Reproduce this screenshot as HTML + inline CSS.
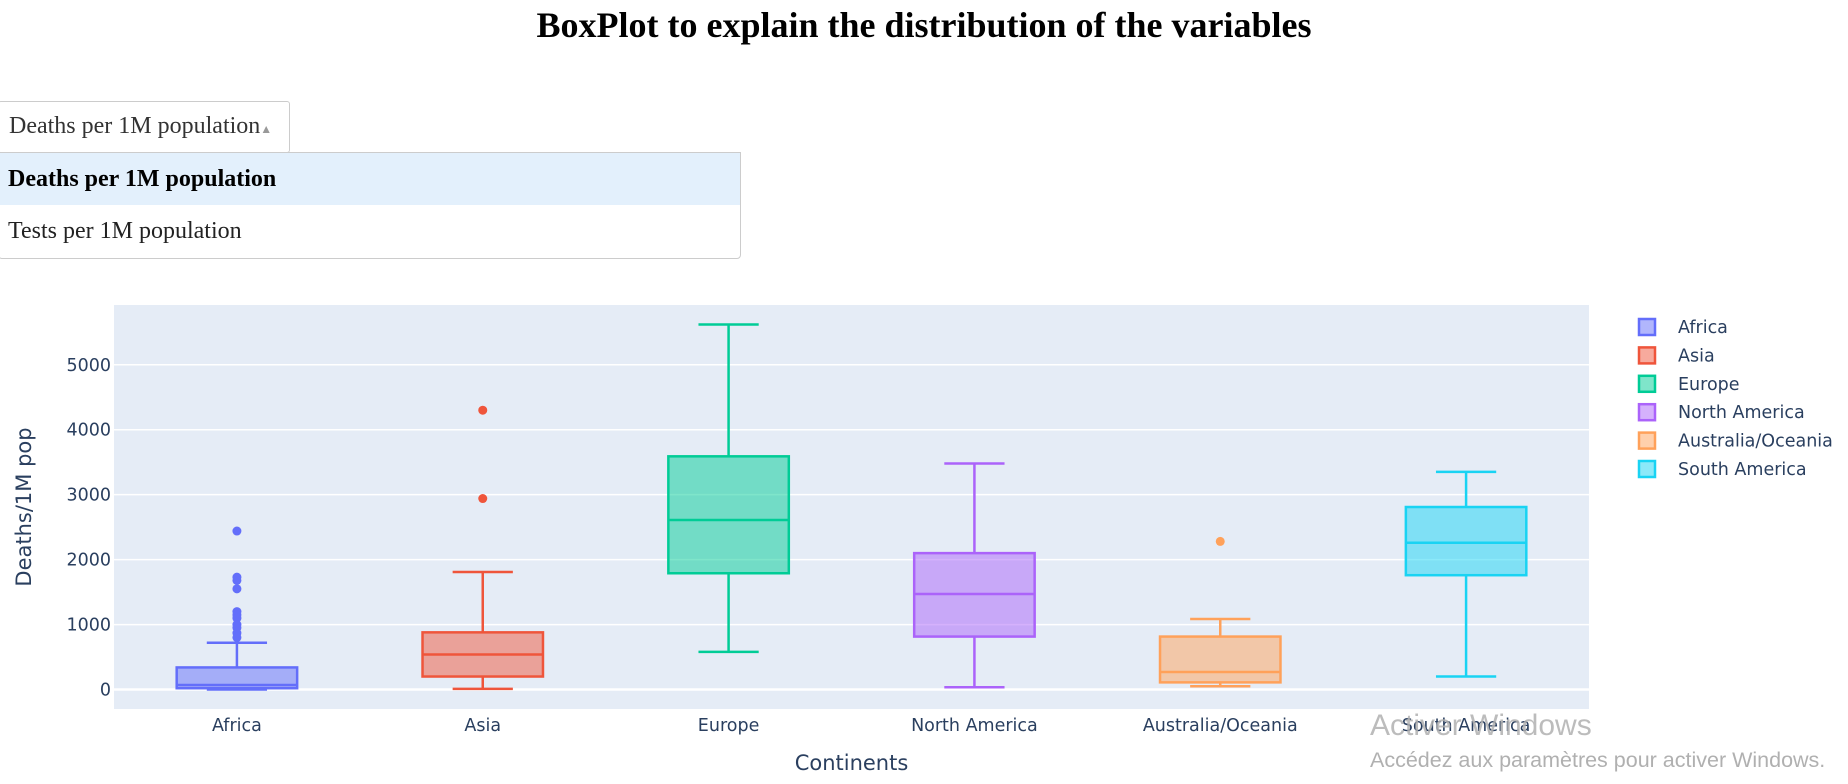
<!DOCTYPE html>
<html><head><meta charset="utf-8"><style>
body{margin:0;width:1848px;height:784px;background:#fff;overflow:hidden;position:relative;font-family:"Liberation Sans",sans-serif}
#title{position:absolute;top:4px;left:0;width:1848px;text-align:center;font:bold 36px "Liberation Serif",serif;color:#000}
#dd{position:absolute;left:-2px;top:101px;width:292px;height:52px;border:1px solid #ccc;border-radius:3px;background:#fff;box-sizing:border-box;font:24px "Liberation Serif",serif;color:#333;padding:11px 0 0 10px;white-space:nowrap}
#menu{position:absolute;left:-2px;top:152px;width:743px;height:107px;border:1px solid #ccc;border-radius:0 0 4px 4px;background:#fff;box-sizing:border-box;font:24px "Liberation Serif",serif}
.opt{height:52px;line-height:52px;padding-left:9px}
svg{position:absolute;left:0;top:0}
</style></head><body>
<div id="title">BoxPlot to explain the distribution of the variables</div>
<div id="dd">Deaths per 1M population<span style="font-size:12px;color:#999">▲</span></div>
<div id="menu">
<div class="opt" style="background:#e3f0fc;font-weight:bold;color:#000">Deaths per 1M population</div>
<div class="opt" style="color:#222">Tests per 1M population</div>
</div>
<svg id="chart" width="1848" height="784"></svg>
<script>
const categories=["Africa","Asia","Europe","North America","Australia/Oceania","South America"];
const colors=["#636efa","#EF553B","#00cc96","#ab63fa","#FFA15A","#19d3f3"];
const lowerFence=[0,10,580,35,50,200];
const q1=[20,200,1790,815,110,1760];
const median=[70,540,2610,1470,270,2260];
const q3=[340,880,3590,2100,815,2810];
const upperFence=[720,1810,5620,3480,1085,3350];
const outliers=[[2440,1730,1680,1550,1200,1150,1100,1000,950,870,800],[4300,2940],[],[],[2280],[]];
const yTicks=[0,1000,2000,3000,4000,5000];

const svg=document.getElementById('chart');
const NS='http://www.w3.org/2000/svg';
const L=114,R=1589,T=305,B=709;
const yMin=-300,yMax=5920;
const y=v=>B-(v-yMin)/(yMax-yMin)*(B-T);
const band=(R-L)/categories.length;
const x=i=>L+band*(i+0.5);
const F='DejaVu Sans, sans-serif';
function mk(tag,attrs,parent){const e=document.createElementNS(NS,tag);for(const k in attrs)e.setAttribute(k,attrs[k]);(parent||svg).appendChild(e);return e;}
const bg=mk('rect',{x:L,y:T,width:R-L,height:B-T,fill:'#e5ecf6'});


yTicks.forEach(t=>{
  const g=mk('line',{x1:L,x2:R,y1:y(t),y2:y(t),stroke:'#fff','stroke-width':t===0?2.5:1.5});
  
  
  const tx=mk('text',{x:L-3,y:y(t)+6,'text-anchor':'end','font-size':17.5,fill:'#2a3f5f','font-family':F});
  tx.textContent=t;
  
  
});
const bw=band*0.49;
categories.forEach((c,i)=>{
  const cx=x(i),col=colors[i];
  const g=mk('g',{});
  
  
  mk('line',{x1:cx,x2:cx,y1:y(upperFence[i]),y2:y(q3[i]),stroke:col,'stroke-width':2.5},g);
  mk('line',{x1:cx,x2:cx,y1:y(q1[i]),y2:y(lowerFence[i]),stroke:col,'stroke-width':2.5},g);
  mk('line',{x1:cx-bw/4,x2:cx+bw/4,y1:y(upperFence[i]),y2:y(upperFence[i]),stroke:col,'stroke-width':2.5},g);
  mk('line',{x1:cx-bw/4,x2:cx+bw/4,y1:y(lowerFence[i]),y2:y(lowerFence[i]),stroke:col,'stroke-width':2.5},g);
  mk('rect',{x:cx-bw/2,y:y(q3[i]),width:bw,height:y(q1[i])-y(q3[i]),fill:col,'fill-opacity':0.5,stroke:col,'stroke-width':2.5},g);
  mk('line',{x1:cx-bw/2,x2:cx+bw/2,y1:y(median[i]),y2:y(median[i]),stroke:col,'stroke-width':2.5},g);
  outliers[i].forEach(o=>{const p=mk('circle',{cx:cx,cy:y(o),r:4.5,fill:col},g);
    
    });
  const tl=mk('text',{x:cx,y:731,'text-anchor':'middle','font-size':17.5,fill:'#2a3f5f','font-family':F});
  tl.textContent=c;
  
  
  const ly=327+i*28.4;
  const lr=mk('rect',{x:1639,y:ly-8,width:16,height:16,fill:col,'fill-opacity':0.5,stroke:col,'stroke-width':2.5});
  
  
  const lt=mk('text',{x:1678,y:ly+6,'font-size':17.5,fill:'#2a3f5f','font-family':F});
  lt.textContent=c;
  
  
});
const xt=mk('text',{x:(L+R)/2,y:770,'text-anchor':'middle','font-size':21,fill:'#2a3f5f','font-family':F});
xt.textContent='Continents';


const yt=mk('text',{x:0,y:0,'text-anchor':'middle','font-size':21,fill:'#2a3f5f','font-family':F,transform:`translate(31,${(T+B)/2}) rotate(-90)`});
yt.textContent='Deaths/1M pop';


const w1=mk('text',{x:1370,y:735,'font-size':30,fill:'#b0b0b0','font-family':'Liberation Sans, sans-serif','fill-opacity':0.85});
w1.textContent='Activer Windows';


const w2=mk('text',{x:1370,y:767,'font-size':21.5,fill:'#b0b0b0','font-family':'Liberation Sans, sans-serif'});
w2.textContent='Accédez aux paramètres pour activer Windows.';


</script>
</body></html>
